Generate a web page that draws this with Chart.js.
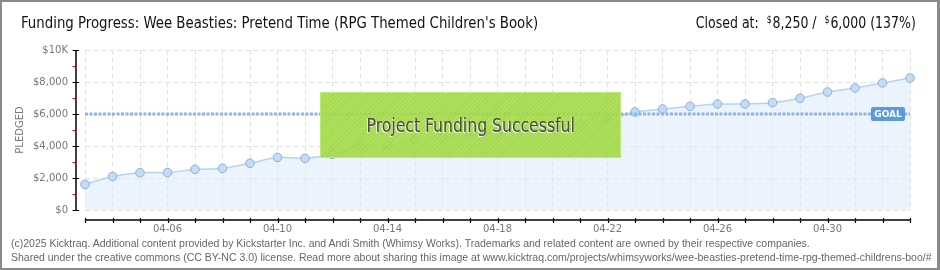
<!DOCTYPE html>
<html>
<head>
<meta charset="utf-8">
<script src="https://cdn.jsdelivr.net/npm/chart.js@4/dist/chart.umd.min.js"></script>
<style>
  html, body { margin: 0; padding: 0; background: #fff; }
  #wrap { position: relative; width: 940px; height: 270px; overflow: hidden; background: #fff; }
  #frame { position: absolute; left: 0; top: 0; width: 940px; height: 270px; box-sizing: border-box; border: 2px solid #8a8a8a; border-right-width: 3px; pointer-events: none; }
  canvas { position: absolute; left: 0; top: 0; }
  #title { position: absolute; left: 21px; top: 13px; font-family: "Liberation Sans Narrow", "DejaVu Sans Condensed", sans-serif; font-size: 16px; color: #111; white-space: nowrap; transform: scaleX(0.925); transform-origin: left center; }
  #closed { position: absolute; right: 24px; top: 13px; font-family: "Liberation Sans Narrow", "DejaVu Sans Condensed", sans-serif; font-size: 16px; color: #111; white-space: nowrap; transform: scaleX(0.87); transform-origin: right center; }
  #closed sup { font-size: 10px; vertical-align: 5px; margin-right: 1px; }
  #success { position: absolute; left: 320px; top: 92px; width: 301px; height: 66px; box-sizing: border-box;
    border: 1px solid rgba(190,236,120,0.9);
    background: repeating-linear-gradient(135deg, rgba(120,180,40,0.18) 0 1px, rgba(0,0,0,0) 1px 3px), rgba(166,221,74,0.9);
    display: flex; align-items: center; justify-content: center; }
  #success span { display: inline-block; font-family: "Liberation Sans Narrow", "DejaVu Sans Condensed", sans-serif; font-size: 20px; color: #4a4a4a;
    text-shadow: -1px 1px 0 #f4fbe8; transform: scaleX(0.87); margin-top: -1px; }
  #footer { position: absolute; left: 11px; top: 236px; width: 926px; overflow: hidden; font-family: "Liberation Sans", "DejaVu Sans", sans-serif; font-size: 10.5px; line-height: 14px; color: #666; white-space: nowrap; }
</style>
</head>
<body>
<div id="wrap">
  <canvas id="c" width="940" height="270"></canvas>
  <div id="title">Funding Progress: Wee Beasties: Pretend Time (RPG Themed Children's Book)</div>
  <div id="closed">Closed at:&nbsp; <sup>$</sup>8,250 /&nbsp; <sup>$</sup>6,000 (137%)</div>
  <div id="success"><span>Project Funding Successful</span></div>
  <div id="footer">(c)2025 Kicktraq. Additional content provided by Kickstarter Inc. and Andi Smith (Whimsy Works). Trademarks and related content are owned by their respective companies.<br>Shared under the creative commons (CC BY-NC 3.0) license. Read more about sharing this image at www.kicktraq.com/projects/whimsyworks/wee-beasties-pretend-time-rpg-themed-childrens-boo/#</div>
  <div id="frame"></div>
</div>
<script>
// ---- data ----
const days = ["04-03","04-04","04-05","04-06","04-07","04-08","04-09","04-10","04-11","04-12",
              "04-13","04-14","04-15","04-16","04-17","04-18","04-19","04-20","04-21","04-22",
              "04-23","04-24","04-25","04-26","04-27","04-28","04-29","04-30","05-01","05-02","05-03"];
const pledged = [1600,2100,2330,2340,2540,2600,2920,3290,3230,3480,
                 4000,4040,4375,4540,4720,4850,5050,5250,5375,5625,
                 6125,6310,6480,6625,6625,6710,6980,7375,7625,7940,8250];
const GOAL = 6000;
const yTickValues = [0,1000,2000,3000,4000,5000,6000,7000,8000,9000,10000];
const yTickLabels = {0:"$0",2000:"$2,000",4000:"$4,000",6000:"$6,000",8000:"$8,000",10000:"$10K"};

const axisFont = { family: "DejaVu Sans", size: 10 };

const axesPlugin = {
  id: 'kickAxes',
  afterDraw(chart) {
    const ctx = chart.ctx;
    const xs = chart.scales.x, ys = chart.scales.y;
    const x0 = xs.getPixelForValue(0), x1 = xs.getPixelForValue(days.length - 1);
    const yBot = ys.getPixelForValue(0), yTop = ys.getPixelForValue(10000);
    const axX = x0 - 9, axY = yBot + 10;
    ctx.save();
    ctx.strokeStyle = '#000';
    ctx.lineWidth = 1.5;
    ctx.beginPath(); ctx.moveTo(axX, yTop); ctx.lineTo(axX, yBot); ctx.stroke();
    yTickValues.forEach(v => {
      const py = Math.round(ys.getPixelForValue(v)) + 0.5;
      const major = v % 2000 === 0;
      ctx.strokeStyle = major ? '#000' : '#e00000';
      ctx.lineWidth = 1;
      ctx.beginPath();
      ctx.moveTo(axX - 3.5, py); ctx.lineTo(major ? axX + 3 : axX, py); ctx.stroke();
    });
    ctx.strokeStyle = '#000'; ctx.lineWidth = 1.5;
    ctx.beginPath(); ctx.moveTo(x0, axY); ctx.lineTo(x1, axY); ctx.stroke();
    ctx.lineWidth = 1.2;
    days.forEach((d, i) => {
      const px = Math.round(xs.getPixelForValue(i)) + 0.5;
      ctx.beginPath(); ctx.moveTo(px, axY - 2); ctx.lineTo(px, axY + 3); ctx.stroke();
    });
    const gy = ys.getPixelForValue(GOAL);
    const bx = x1 - 39, bw = 34, bh = 14;
    ctx.fillStyle = '#5c9bdb';
    ctx.beginPath();
    if (ctx.roundRect) ctx.roundRect(bx, gy - bh / 2, bw, bh, 2); else ctx.rect(bx, gy - bh / 2, bw, bh);
    ctx.fill();
    ctx.fillStyle = '#fff';
    ctx.font = 'bold 9px "DejaVu Sans"';
    ctx.textAlign = 'center'; ctx.textBaseline = 'middle';
    ctx.fillText('GOAL', bx + bw / 2, gy + 0.5);
    ctx.restore();
  }
};

new Chart(document.getElementById('c'), {
  type: 'line',
  data: {
    labels: days,
    datasets: [
      {
        label: 'Pledged',
        data: pledged,
        borderColor: '#b7d3f1',
        borderWidth: 1.5,
        backgroundColor: 'rgba(222,235,250,0.6)',
        fill: 'origin',
        tension: 0.25,
        pointRadius: 4.3,
        pointBackgroundColor: '#c3dbf6',
        pointBorderColor: '#8eafd8',
        pointBorderWidth: 1,
        order: 2
      },
      {
        label: 'Goal',
        data: [{x: days[0], y: GOAL}, {x: days[days.length - 1], y: GOAL}],
        borderColor: '#8fb4e2',
        borderWidth: 3,
        borderDash: [3, 1.5],
        pointRadius: 0,
        fill: false,
        order: 1
      }
    ]
  },
  options: {
    responsive: false,
    animation: false,
    events: [],
    layout: { padding: { left: 0, top: 50, right: 30, bottom: 0 } },
    plugins: { legend: { display: false }, tooltip: { enabled: false }, title: { display: false } },
    scales: {
      x: {
        type: 'category',
        offset: false,
        afterFit: s => { s.height = 60; },
        grid: { color: '#e2e2e2', lineWidth: 1, drawTicks: false },
        border: { display: false, dash: [5, 3] },
        ticks: {
          autoSkip: false, maxRotation: 0, padding: 13,
          color: '#777', font: axisFont,
          callback: (v, i) => (i % 4 === 3 ? days[i] : '')
        }
      },
      y: {
        min: 0, max: 10000,
        afterBuildTicks: s => { s.ticks = yTickValues.map(v => ({ value: v })); },
        afterFit: s => { s.width = 85; },
        grid: { drawTicks: false, lineWidth: 1, color: c => (c.tick && c.tick.value % 2000 === 0 ? '#e2e2e2' : 'rgba(0,0,0,0)') },
        border: { display: false, dash: [5, 3] },
        title: { display: true, text: 'PLEDGED', color: '#777', font: { family: "DejaVu Sans", size: 10 }, padding: { top: 14, bottom: 0 } },
        ticks: {
          padding: 17, color: '#777', font: axisFont,
          callback: v => (yTickLabels[v] !== undefined ? yTickLabels[v] : '')
        }
      }
    }
  },
  plugins: [axesPlugin]
});
</script>
</body>
</html>
